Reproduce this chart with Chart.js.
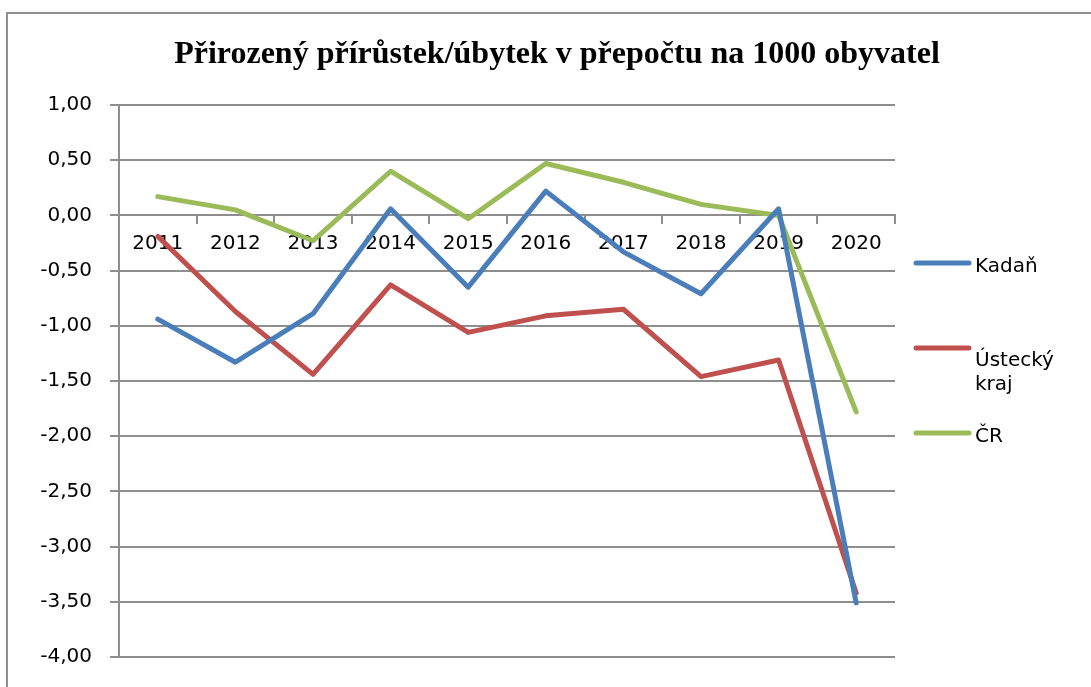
<!DOCTYPE html>
<html>
<head>
<meta charset="utf-8">
<script src="https://cdn.jsdelivr.net/npm/chart.js@4/dist/chart.umd.min.js"></script>
<style>
  html, body { margin: 0; padding: 0; background: #ffffff; }
  #wrap { width: 1091px; height: 687px; position: relative; }
</style>
</head>
<body>
<div id="wrap"><canvas id="c"></canvas></div>
<script>
const titleText = "Přirozený přírůstek/úbytek v přepočtu na 1000 obyvatel";
const years = ["2011","2012","2013","2014","2015","2016","2017","2018","2019","2020"];
const kadan  = [-0.94, -1.33, -0.89, 0.06, -0.65, 0.22, -0.33, -0.71, 0.06, -3.51];
const ustecky = [-0.19, -0.87, -1.44, -0.63, -1.06, -0.91, -0.85, -1.46, -1.31, -3.42];
const cr     = [0.17, 0.05, -0.23, 0.40, -0.03, 0.47, 0.30, 0.10, 0.00, -1.78];
const seriesNames = ["Kadaň", "Ústecký kraj", "ČR"];
const yMin = -4, yMax = 1, yStep = 0.5;

const GRID = '#8e8e8e';
const LABEL_FONT = '"DejaVu Sans", sans-serif';

const decorPlugin = {
  id: 'decor',
  beforeDraw(chart) {
    const ctx = chart.ctx;
    ctx.save();
    ctx.fillStyle = '#ffffff';
    ctx.fillRect(0, 0, chart.width, chart.height);
    ctx.fillStyle = GRID;
    ctx.fillRect(6, 12, 2, chart.height - 12);
    ctx.fillRect(6, 12, chart.width - 6, 2);
    ctx.restore();
  },
  afterDraw(chart) {
    const ctx = chart.ctx;
    ctx.save();
    // title
    ctx.fillStyle = '#000000';
    ctx.font = 'bold 32px "Liberation Serif", serif';
    ctx.textAlign = 'center';
    ctx.textBaseline = 'alphabetic';
    ctx.fillText(titleText, 557, 63);
    // legend
    ctx.font = '20px ' + LABEL_FONT;
    ctx.textAlign = 'left';
    const sx1 = 916, sx2 = 969, tx = 975;
    let y = 263;
    chart.data.datasets.forEach(ds => {
      const words = ds.label.split(' ');
      const lines = [];
      let cur = '';
      words.forEach(w => {
        const test = cur ? cur + ' ' + w : w;
        if (cur && ctx.measureText(test).width > 100) { lines.push(cur); cur = w; }
        else cur = test;
      });
      if (cur) lines.push(cur);
      ctx.strokeStyle = ds.borderColor;
      ctx.lineWidth = 5;
      ctx.lineCap = 'round';
      ctx.beginPath();
      ctx.moveTo(sx1, y);
      ctx.lineTo(sx2, y);
      ctx.stroke();
      ctx.fillStyle = '#000000';
      const base = y + 9 + (lines.length - 1) * 9;
      lines.forEach((ln, i) => ctx.fillText(ln, tx, base + i * 24));
      y += 85;
    });
    ctx.restore();
  }
};

function ds(label, data, color) {
  return {
    label, data,
    borderColor: color, backgroundColor: color,
    borderWidth: 5, pointRadius: 0, pointHoverRadius: 0,
    tension: 0, fill: false,
    borderCapStyle: 'round', borderJoinStyle: 'round'
  };
}

new Chart(document.getElementById('c'), {
  type: 'line',
  data: {
    labels: years,
    datasets: [
      ds(seriesNames[0], kadan, '#4a7ebb'),
      ds(seriesNames[1], ustecky, '#c0504d'),
      ds(seriesNames[2], cr, '#9bbb59')
    ]
  },
  options: {
    responsive: true,
    maintainAspectRatio: false,
    animation: false,
    layout: { padding: { top: 105, right: 196, bottom: 29, left: 0 } },
    plugins: {
      legend: { display: false },
      title: { display: false },
      tooltip: { enabled: false }
    },
    scales: {
      x: {
        type: 'category',
        position: { y: 0 },
        offset: true,
        grid: { offset: true, drawOnChartArea: false, drawTicks: true, tickLength: 8, color: GRID, lineWidth: 2 },
        border: { display: true, color: GRID, width: 2 },
        ticks: { color: '#000000', font: { family: LABEL_FONT, size: 20 }, padding: 8, maxRotation: 0, autoSkip: false }
      },
      y: {
        min: yMin, max: yMax,
        afterFit(scale) { scale.width = 119; },
        grid: { color: GRID, lineWidth: 2, drawTicks: true, tickLength: 9 },
        border: { display: true, color: GRID, width: 2 },
        ticks: {
          stepSize: yStep,
          color: '#000000',
          font: { family: LABEL_FONT, size: 20 },
          padding: 18,
          callback: v => v.toFixed(2).replace('.', ',')
        }
      }
    }
  },
  plugins: [decorPlugin]
});
</script>
</body>
</html>
